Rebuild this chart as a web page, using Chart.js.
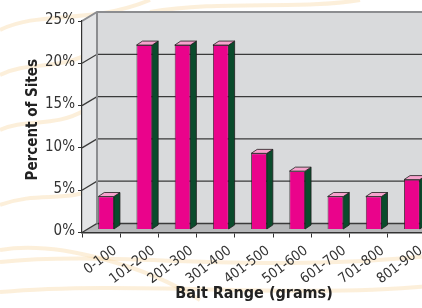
<!DOCTYPE html>
<html>
<head>
<meta charset="utf-8">
<script src="https://cdn.jsdelivr.net/npm/chart.js@4.4.1/dist/chart.umd.min.js"></script>
<style>
  html, body { margin: 0; padding: 0; overflow: hidden; background: #fff; }
  #wrap { width: 445px; height: 308px; }
</style>
</head>
<body>
<div id="wrap"><canvas id="chart" width="445" height="308"></canvas></div>
<script>
// data
const categories = ["0-100", "101-200", "201-300", "301-400", "401-500", "501-600", "601-700", "701-800", "801-900"];
const percentSites = [3.9, 21.8, 21.8, 21.8, 9.0, 6.9, 3.9, 3.9, 5.9];
const yTicks = [0, 5, 10, 15, 20, 25];

const FONT = "'DejaVu Sans Condensed', 'Liberation Sans Narrow', 'DejaVu Sans', sans-serif";
const WALL = { x: 15, y: -9 };      // depth of floor / side wall
const SHIFT = { x: 5, y: -3 };      // bars sit a third of the way into the depth
const BAR = { x: 6, y: -4 };        // depth of each bar

/* faint beige waves behind the chart, like the printed page */
function paperWaves(ctx) {
  ctx.save();
  ctx.strokeStyle = "rgba(247, 212, 158, 0.38)";
  ctx.lineWidth = 4;
  const waves = [
    [0, 30, 40, 10, 90, 25, 150, 0],
    [0, 75, 30, 60, 60, 72, 95, 50],
    [0, 130, 25, 118, 55, 128, 85, 110],
    [0, 205, 40, 190, 70, 205, 100, 185],
    [0, 250, 60, 240, 150, 268, 200, 300],
    [0, 262, 120, 250, 250, 275, 440, 255],
    [0, 292, 140, 280, 300, 300, 440, 285],
    [150, 12, 220, 0, 300, 10, 360, 0],
  ];
  for (const [x0, y0, x1, y1, x2, y2, x3, y3] of waves) {
    ctx.beginPath(); ctx.moveTo(x0, y0); ctx.bezierCurveTo(x1, y1, x2, y2, x3, y3); ctx.stroke();
  }
  ctx.restore();
}

function poly(ctx, pts, fill, stroke, lw) {
  ctx.beginPath();
  pts.forEach(([x, y], i) => i ? ctx.lineTo(x, y) : ctx.moveTo(x, y));
  ctx.closePath();
  if (fill) { ctx.fillStyle = fill; ctx.fill(); }
  if (stroke) { ctx.strokeStyle = stroke; ctx.lineWidth = lw || 1; ctx.stroke(); }
}

const box3d = {
  id: "box3d",
  beforeDraw(chart) {
    const { ctx, chartArea: a, scales: { y } } = chart;
    const L = a.left, R = a.right + 30, T = a.top, B = a.bottom;
    paperWaves(ctx);
    // side wall, back wall, floor
    poly(ctx, [[L, B], [L, T], [L + WALL.x, T + WALL.y], [L + WALL.x, B + WALL.y]], "#e3e4e6");
    poly(ctx, [[L + WALL.x, T + WALL.y], [R, T + WALL.y], [R, B + WALL.y], [L + WALL.x, B + WALL.y]], "#d9dadc");
    poly(ctx, [[L, B], [R, B], [R, B + WALL.y], [L + WALL.x, B + WALL.y]], "#b7b8ba");
    // gridlines run across the side wall and the back wall
    ctx.save();
    ctx.strokeStyle = "#3a3a3a"; ctx.lineWidth = 1.3;
    for (const v of yTicks) {
      if (v === 25) continue;
      const py = y.getPixelForValue(v);
      ctx.beginPath();
      ctx.moveTo(L, py); ctx.lineTo(L + WALL.x, py + WALL.y); ctx.lineTo(R, py + WALL.y);
      ctx.stroke();
    }
    // wall edges
    ctx.strokeStyle = "#8c8d90"; ctx.lineWidth = 2;
    ctx.beginPath();
    ctx.moveTo(L, T); ctx.lineTo(L + WALL.x, T + WALL.y); ctx.lineTo(R, T + WALL.y);
    ctx.moveTo(L + WALL.x, T + WALL.y); ctx.lineTo(L + WALL.x, B + WALL.y);
    ctx.stroke();
    ctx.restore();
  },
  beforeDatasetsDraw(chart) {
    chart.ctx.save();
    chart.ctx.translate(SHIFT.x, SHIFT.y);
  },
  afterDatasetsDraw(chart) {
    const ctx = chart.ctx;
    for (const bar of chart.getDatasetMeta(0).data) {
      const { x, y, base, width } = bar.getProps(["x", "y", "base", "width"], true);
      const l = x - width / 2, r = x + width / 2;
      poly(ctx, [[r, y], [r + BAR.x, y + BAR.y], [r + BAR.x, base + BAR.y], [r, base]], "#0a4b2c", "#1e1e1e", 0.8);
      poly(ctx, [[l, y], [l + BAR.x, y + BAR.y], [r + BAR.x, y + BAR.y], [r, y]], "#f7a3cd", "#1e1e1e", 0.8);
    }
    ctx.restore();
  },
};

new Chart(document.getElementById("chart"), {
  type: "bar",
  data: {
    labels: categories,
    datasets: [{
      data: percentSites,
      backgroundColor: "#ea038b",
      borderColor: "#1e1e1e",
      borderWidth: 0.8,
      barPercentage: 0.41,
      categoryPercentage: 1,
      clip: false,
    }],
  },
  options: {
    responsive: false,
    animation: false,
    devicePixelRatio: 1,
    layout: { padding: { top: 21, right: 19, left: 0, bottom: 0 } },
    plugins: { legend: { display: false }, tooltip: { enabled: false } },
    scales: {
      x: {
        offset: true,
        grid: { offset: true, drawOnChartArea: false, tickLength: 5, color: "#333" },
        border: { color: "#333", width: 1.5 },
        ticks: {
          autoSkip: false, minRotation: 37, maxRotation: 37,
          labelOffset: 14, padding: 5,
          color: "#333", font: { family: FONT, size: 14 },
        },
        title: {
          display: true, text: "Bait Range (grams)", color: "#222",
          font: { family: FONT, size: 16, weight: "bold" },
          padding: { top: 0, bottom: 5 },
        },
        afterFit(s) { s.height = 75.5; },
      },
      y: {
        min: 0, max: 25,
        afterBuildTicks(s) { s.ticks = yTicks.map(v => ({ value: v })); },
        grid: { drawOnChartArea: false, tickLength: 4, color: "#333" },
        border: { color: "#333", width: 1.2 },
        ticks: {
          callback: v => v + "%", labelOffset: -1, padding: 3,
          color: "#333", font: { family: FONT, size: 15 },
        },
        title: {
          // leading spaces nudge the rotated title up to where the original sits
          display: true, text: "   Percent of Sites", color: "#222",
          font: { family: FONT, size: 15, weight: "bold" },
          padding: { top: 24, bottom: 0 },
        },
        afterFit(s) { s.width = 82; },
      },
    },
  },
  plugins: [box3d],
});
</script>
</body>
</html>
